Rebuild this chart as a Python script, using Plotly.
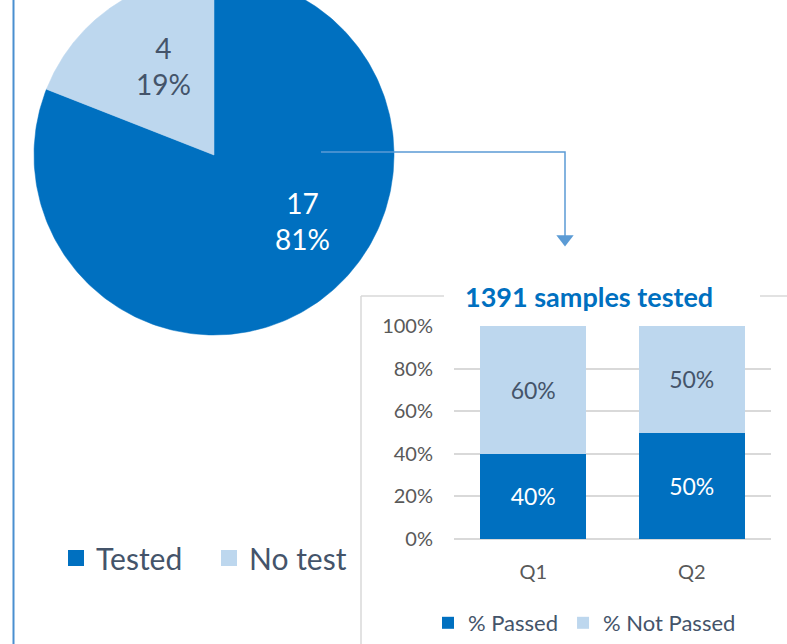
import numpy as np
import plotly.graph_objects as go

# ---------------- data ----------------
pie_labels = ["Tested", "No test"]
pie_values = [17, 4]

quarters = ["Q1", "Q2"]
passed = [0.40, 0.50]
not_passed = [0.60, 0.50]
bar_series = ["% Passed", "% Not Passed"]
bar_title = "1391 samples tested"

# ---------------- style / layout constants ----------------
W, H = 787, 644
FONT = "Lato"
DARK = "#0070C0"
LIGHT = "#BDD7EE"
SLATE = "#44546A"
GREY = "#595959"
pie_colors = [DARK, LIGHT]
pie_text_colors = ["#FFFFFF", SLATE]
CX, CY, R = 214, 155, 180          # pie centre / radius in px
LABEL_POS = [(302, 221), (163, 66)]  # pie data label positions in px

fig = go.Figure()

# ---------------- pie (drawn on a px-scaled cartesian axis) ----------------
total = sum(pie_values)
start = 0.0
for lab, val, col, tcol, (lx, ly) in zip(pie_labels, pie_values, pie_colors,
                                         pie_text_colors, LABEL_POS):
    frac = val / total
    th = np.linspace(start, start + frac, 240) * 2 * np.pi
    xs = np.concatenate([[CX], CX + R * np.sin(th), [CX]])
    ys = np.concatenate([[CY], CY - R * np.cos(th), [CY]])
    fig.add_trace(go.Scatter(x=xs, y=ys, fill="toself", fillcolor=col, mode="lines",
                             line=dict(width=0.5, color=col), hoverinfo="skip",
                             showlegend=False, legendgroup=lab, xaxis="x", yaxis="y"))
    fig.add_trace(go.Scatter(x=[None], y=[None], mode="markers", name=lab,
                             legendgroup=lab, legend="legend",
                             marker=dict(symbol="square", size=18, color=col),
                             xaxis="x", yaxis="y"))
    fig.add_annotation(x=lx, y=ly, xref="x", yref="y", showarrow=False,
                       text=f"{val}<br>{round(frac * 100)}%",
                       font=dict(family=FONT, size=28, color=tcol))
    start += frac

# ---------------- stacked bars ----------------
for name, vals, col, tcol in zip(bar_series, [passed, not_passed], [DARK, LIGHT],
                                 ["#FFFFFF", SLATE]):
    fig.add_trace(go.Bar(x=quarters, y=vals, name=name, marker=dict(color=col, line=dict(width=0)),
                         texttemplate="%{y:.0%}", textposition="inside",
                         insidetextanchor="middle", textangle=0, constraintext="none",
                         textfont=dict(family=FONT, size=23, color=tcol),
                         hoverinfo="skip", xaxis="x2", yaxis="y2", legend="legend2"))

# ---------------- decorations ----------------
BLUE_LINE = "#5B9BD5"
FRAME = "#D9D9D9"
shapes = [
    dict(type="line", xref="x", yref="y", x0=13.5, x1=13.5, y0=0, y1=H,
         line=dict(color="#4A8FD0", width=2)),
    dict(type="path", xref="x", yref="y", path="M321,152 H565 V236",
         line=dict(color=BLUE_LINE, width=1.5)),
    dict(type="line", xref="x", yref="y", x0=361, x1=444, y0=296, y1=296,
         line=dict(color=FRAME, width=1.5)),
    dict(type="line", xref="x", yref="y", x0=760, x1=W, y0=296, y1=296,
         line=dict(color=FRAME, width=1.5)),
    dict(type="line", xref="x", yref="y", x0=361, x1=361, y0=296, y1=H,
         line=dict(color=FRAME, width=1.5)),
]
fig.add_trace(go.Scatter(x=[565], y=[239], mode="markers", hoverinfo="skip", showlegend=False,
                         marker=dict(symbol="triangle-down", size=15, color=BLUE_LINE),
                         xaxis="x", yaxis="y"))
fig.add_annotation(x=589, y=296, xref="x", yref="y", showarrow=False, text=f"<b>{bar_title}</b>",
                   font=dict(family=FONT, size=27, color=DARK))

fig.update_layout(
    width=W, height=H, margin=dict(l=0, r=0, t=0, b=0, autoexpand=False),
    paper_bgcolor="white", plot_bgcolor="rgba(0,0,0,0)",
    font=dict(family=FONT, color=GREY),
    barmode="stack", bargap=0.33, shapes=shapes,
    xaxis=dict(range=[0, W], domain=[0, 1], visible=False, fixedrange=True),
    yaxis=dict(range=[H, 0], domain=[0, 1], visible=False, fixedrange=True),
    xaxis2=dict(domain=[454 / W, 771 / W], anchor="y2", showgrid=False, showline=False,
                ticks="", tickfont=dict(family=FONT, size=20, color=GREY),
                ticklabelstandoff=19, fixedrange=True),
    yaxis2=dict(domain=[(H - 539) / H, (H - 326) / H], anchor="x2", range=[0, 1],
                dtick=0.2, tickformat=".0%", showline=False, ticks="",
                gridcolor=FRAME, gridwidth=1.5, zeroline=True, zerolinecolor=FRAME,
                zerolinewidth=1.5, tickfont=dict(family=FONT, size=20, color=GREY),
                ticklabelstandoff=20, fixedrange=True),
    legend=dict(orientation="h", x=56 / W, y=(H - 558) / H, xanchor="left", yanchor="middle",
                font=dict(family=FONT, size=30, color=SLATE), bgcolor="rgba(0,0,0,0)",
                entrywidth=108, itemclick=False, traceorder="normal"),
    legend2=dict(orientation="h", x=428 / W, y=(H - 623) / H, xanchor="left", yanchor="middle",
                 font=dict(family=FONT, size=22, color=SLATE), bgcolor="rgba(0,0,0,0)",
                 itemclick=False, traceorder="normal"),
)

fig.write_html("out.html", config={"displayModeBar": False},
               post_script="document.body.style.margin='0';")
